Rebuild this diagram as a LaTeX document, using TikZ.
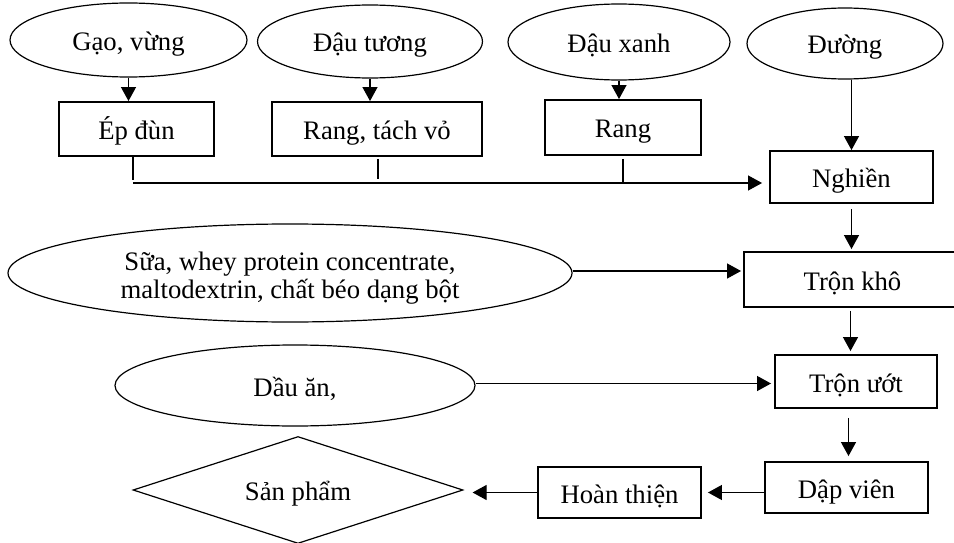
\documentclass[tikz,border=0pt]{standalone}
\usepackage{fontspec}
\setmainfont{Liberation Serif}
\usetikzlibrary{shapes.geometric,arrows.meta,calc}
\begin{document}
\begin{tikzpicture}[x=1pt,y=-1pt,
  font=\fontsize{26.7}{27.5}\selectfont,
  one/.style={text height=21pt, text depth=0pt},
  ell/.style={draw, ellipse, line width=1.2pt, inner sep=0pt},
  box/.style={draw, rectangle, line width=1.9pt, inner sep=0pt, one},
  arr/.style={-{Triangle[length=14pt,width=15pt]}, line width=1.2pt},
  ln/.style={line width=1.2pt}]
\useasboundingbox (0,0) rectangle (954,543);
\clip (0,0) rectangle (954,543);
% top inputs
\node[ell, one, minimum width=237pt, minimum height=74pt] (g) at (128.5,40) {Gạo, vừng};
\node[ell, one, minimum width=225pt, minimum height=73pt] (dt) at (370,41.5) {Đậu tương};
\node[ell, one, minimum width=222pt, minimum height=76pt] (dx) at (619,42) {Đậu xanh};
\node[ell, one, minimum width=196pt, minimum height=71pt] (du) at (845,43.5) {Đường};
% first processing
\node[box, minimum width=155pt, minimum height=54pt] (ep) at (136.5,129) {Ép đùn};
\node[box, minimum width=210pt, minimum height=54pt] (rt) at (377,129) {Rang, tách vỏ};
\node[box, minimum width=156pt, minimum height=55pt] (rg) at (623,127.5) {Rang};
\node[box, minimum width=163pt, minimum height=52pt] (ng) at (851.5,177) {Nghiền};
% mixing
\node[ell, minimum width=564pt, minimum height=98pt] (sua) at (290,273) {};
\node[align=center, inner sep=0pt] (suatxt) at (290,278)
  {Sữa, whey protein concentrate,\\maltodextrin, chất béo dạng bột};
\node[box, draw=none, minimum width=215pt, minimum height=53pt] (tk) at (852.5,279.5) {Trộn khô};
\draw[line width=1.9pt] (tk.south west) rectangle ([xshift=40pt]tk.north east);
\node[ell, one, minimum width=360pt, minimum height=81pt] (dau) at (295,385.5) {Dầu ăn,};
\node[box, minimum width=162pt, minimum height=53pt] (tu) at (856,381.5) {Trộn ướt};
\node[box, minimum width=163pt, minimum height=51pt] (dv) at (846.5,487.5) {Dập viên};
\node[box, minimum width=163pt, minimum height=51pt] (ht) at (619.5,492.5) {Hoàn thiện};
\node[diamond, draw, one, aspect=3, line width=1.2pt, inner sep=0pt,
  minimum width=330pt, minimum height=107pt] (sp) at (298,490) {Sản phẩm};
% connectors
\draw[arr] (g.south) -- (g.south |- ep.north);
\draw[arr] (dt.south) -- (dt.south |- rt.north);
\draw[arr] (dx.south) -- (dx.south |- rg.north);
\draw[arr] (ng.north |- du.south) -- (ng.north);
\coordinate (m) at (133,183);
\draw[ln] ([xshift=-3.5pt]ep.south) -- ++(0,23);
\draw[ln] ([xshift=1pt,yshift=-2pt]rt.south) -- ++(0,20);
\draw[ln] ([yshift=-3pt]rg.south) -- ++(0,24);
\draw[arr, shorten >=7pt] (m) -- (m -| ng.west);
\draw[arr, shorten >=3pt] ([yshift=-5pt]ng.south) -- (ng.south |- tk.north);
\draw[arr, shorten >=3pt] ([yshift=2pt]sua.east) -- ([yshift=2pt]sua.east -| tk.west);
\draw[arr, shorten >=3pt] ([xshift=-2pt,yshift=-4pt]tk.south) -- ([xshift=-2pt]tk.south |- tu.north);
\draw[arr, shorten >=3pt] ([yshift=2pt]dau.east) -- ([yshift=2pt]dau.east -| tu.west);
\draw[arr, shorten >=5pt] ($(dv.north |- tu.south)+(2,9)$) -- ($(dv.north)+(2,0)$);
\draw[arr, shorten >=6pt] (dv.west |- ht.east) -- (ht.east);
\draw[arr, shorten >=9pt] (ht.west) -- (ht.west -| sp.east);
\end{tikzpicture}
\end{document}
